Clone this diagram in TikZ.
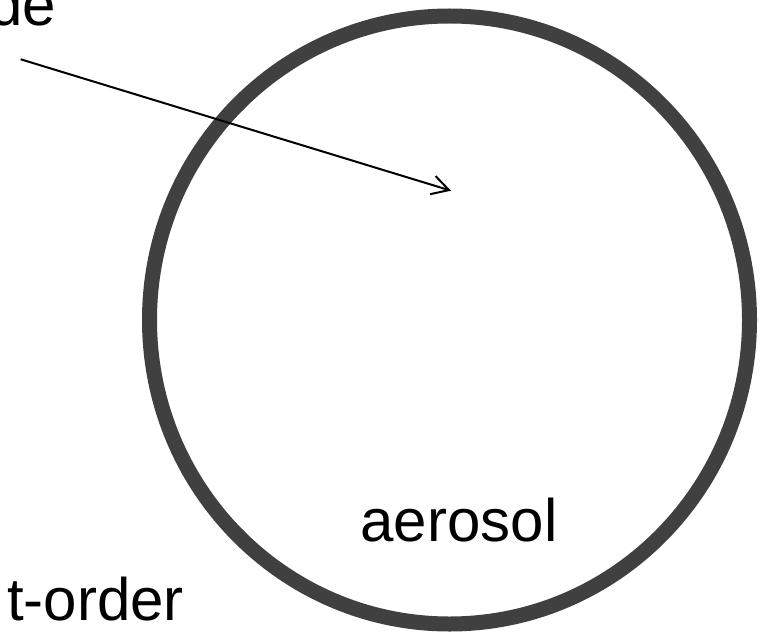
\documentclass[tikz,border=0pt]{standalone}
\usepackage{fontspec}
\setmainfont{Liberation Sans}
\usetikzlibrary{arrows.meta}
\definecolor{ringgray}{HTML}{404040}
\begin{document}
\begin{tikzpicture}[x=1pt,y=-1pt,line cap=butt,line join=miter,>={Straight Barb[length=17pt,width=19pt]},font=\fontsize{60}{72}\selectfont]
		\tikzset{ring/.style={draw=ringgray,line width=15pt},
			pointer/.style={->,line width=2pt},
			txt/.style={inner sep=0pt,anchor=base}
		}
		\useasboundingbox (0,0) rectangle (770,631);
		\clip (0,0) rectangle (770,631);
		\coordinate (particle) at (449.5,320);
		\draw[ring] (particle) ellipse [x radius=300,y radius=304];
		\node[txt,anchor=base east] (de) at (56,26) {de};
		\node[txt,anchor=base east] (order) at (184,620) {t-order};
		\node[txt] (aerosol) at (459,541) {aerosol};
		\coordinate (tail) at (20.7,59.3);
		\coordinate (tip) at (451,190.7);
		\draw[pointer] (tail)--(tip);
	\end{tikzpicture}
\end{document}
